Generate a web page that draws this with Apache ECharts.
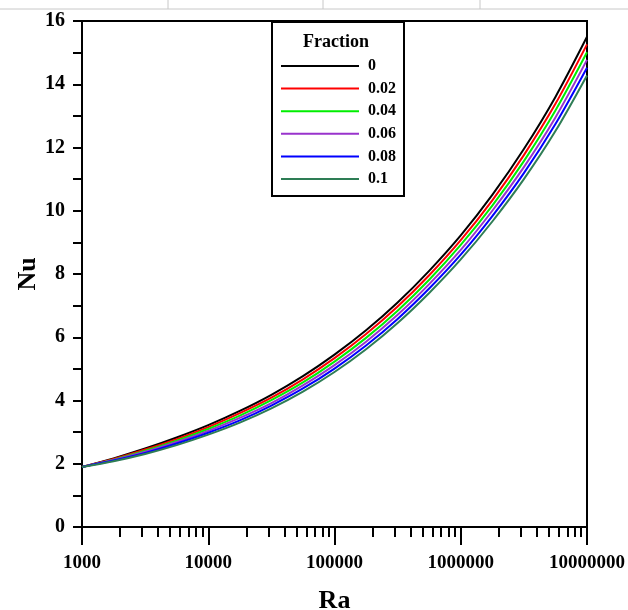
<!DOCTYPE html>
<html>
<head>
<meta charset="utf-8">
<script src="https://cdn.jsdelivr.net/npm/echarts@6/dist/echarts.min.js"></script>
<style>
html,body{margin:0;padding:0;background:#fff;}
#chart{width:628px;height:610px;}
</style>
</head>
<body>
<div id="chart"></div>
<script>
// Rayleigh numbers (x) read at quarter-decade steps
const raValues = [1000, 1778, 3162, 5623, 10000, 17783, 31623, 56234, 100000,
  177828, 316228, 562341, 1000000, 1778279, 3162278, 5623413, 10000000];
// Nusselt number for each nanoparticle fraction
const fractionNames = ['0', '0.02', '0.04', '0.06', '0.08', '0.1'];
const nu_000 = [1.90, 2.17, 2.48, 2.83, 3.22, 3.67, 4.18, 4.77, 5.45, 6.22, 7.10, 8.10, 9.22, 10.50, 11.95, 13.60, 15.50];
const nu_002 = [1.90, 2.15, 2.45, 2.78, 3.16, 3.60, 4.09, 4.67, 5.34, 6.10, 6.97, 7.96, 9.07, 10.33, 11.76, 13.38, 15.26];
const nu_004 = [1.90, 2.13, 2.41, 2.73, 3.10, 3.52, 4.01, 4.57, 5.23, 5.98, 6.84, 7.82, 8.92, 10.16, 11.57, 13.17, 15.01];
const nu_006 = [1.90, 2.12, 2.38, 2.69, 3.04, 3.45, 3.92, 4.48, 5.12, 5.86, 6.71, 7.68, 8.76, 10.00, 11.38, 12.95, 14.77];
const nu_008 = [1.90, 2.10, 2.34, 2.64, 2.98, 3.37, 3.84, 4.38, 5.01, 5.74, 6.58, 7.54, 8.61, 9.83, 11.19, 12.74, 14.52];
const nu_010 = [1.90, 2.08, 2.31, 2.59, 2.92, 3.30, 3.75, 4.28, 4.90, 5.62, 6.45, 7.40, 8.46, 9.66, 11.00, 12.52, 14.28];
const seriesValues = [nu_000, nu_002, nu_004, nu_006, nu_008, nu_010];
const seriesColors = ['#000000', '#ff0000', '#00ee00', '#9933cc', '#0000ff', '#2e7d55'];
// axis ticks
const xMajorTicks = [1000, 10000, 100000, 1000000, 10000000];
const xMinorTicks = [2000,3000,4000,5000,6000,7000,8000,9000,
  20000,30000,40000,50000,60000,70000,80000,90000,
  200000,300000,400000,500000,600000,700000,800000,900000,
  2000000,3000000,4000000,5000000,6000000,7000000,8000000,9000000];
const yTicks = [0, 2, 4, 6, 8, 10, 12, 14, 16];

const FONT = '"Liberation Serif", "Times New Roman", serif';
const chart = echarts.init(document.getElementById('chart'), null, {renderer: 'canvas'});

const series = fractionNames.map((name, i) => ({
  name: name,
  type: 'line',
  xAxisIndex: 0,
  yAxisIndex: 0,
  smooth: 0.3,
  symbol: 'none',
  lineStyle: {color: seriesColors[i], width: 2},
  itemStyle: {color: seriesColors[i]},
  data: raValues.map((r, k) => [r, seriesValues[i][k]])
}));

chart.setOption({
  animation: false,
  backgroundColor: '#ffffff',
  grid: {left: 82, right: 41, top: 21, bottom: 83, containLabel: false, outerBoundsMode: 'none',
    show: true, borderColor: '#000', borderWidth: 2, backgroundColor: 'transparent'},
  xAxis: [{
    type: 'log', logBase: 10, min: xMajorTicks[0], max: xMajorTicks[xMajorTicks.length - 1],
    position: 'bottom',
    name: 'Ra', nameLocation: 'middle', nameGap: 61, nameMoveOverlap: false,
    nameTextStyle: {fontFamily: FONT, fontWeight: 'bold', fontSize: 26, color: '#000'},
    axisLine: {show: true, lineStyle: {color: '#000', width: 2}},
    axisTick: {show: true, length: 18, lineStyle: {color: '#000', width: 2}},
    axisLabel: {show: true, margin: 27, fontFamily: FONT, fontWeight: 'bold', fontSize: 19, color: '#000',
      formatter: v => String(Math.round(v))},
    splitLine: {show: false}
  }, {
    type: 'log', logBase: 10, min: xMajorTicks[0], max: xMajorTicks[xMajorTicks.length - 1],
    position: 'bottom', offset: 0,
    axisLine: {show: false},
    axisTick: {show: true, length: 10, customValues: xMinorTicks, lineStyle: {color: '#000', width: 2}},
    axisLabel: {show: false},
    splitLine: {show: false}
  }],
  yAxis: {
    type: 'value', min: yTicks[0], max: yTicks[yTicks.length - 1], interval: 2,
    name: 'Nu', nameLocation: 'middle', nameGap: 41, nameRotate: 90, nameMoveOverlap: false,
    nameTextStyle: {fontFamily: FONT, fontWeight: 'bold', fontSize: 26, color: '#000'},
    axisLine: {show: true, lineStyle: {color: '#000', width: 2}},
    axisTick: {show: true, length: 9, lineStyle: {color: '#000', width: 2}},
    minorTick: {show: true, splitNumber: 2, length: 9, lineStyle: {color: '#000', width: 2}},
    axisLabel: {margin: 17, fontFamily: FONT, fontWeight: 'bold', fontSize: 20, color: '#000'},
    splitLine: {show: false}
  },
  legend: {
    orient: 'vertical',
    left: 272, top: 22,
    data: fractionNames,
    backgroundColor: '#fff',
    borderColor: '#000', borderWidth: 2,
    padding: [36, 8, 9, 9],
    itemWidth: 78, itemHeight: 14, itemGap: 6.6,
    icon: 'path://M0,6 L78,6 L78,8 L0,8 Z',
    textStyle: {fontFamily: FONT, fontWeight: 'bold', fontSize: 16, lineHeight: 14, color: '#000', padding: [0, 0, 0, 4]}
  },
  graphic: [
    {type: 'text', x: 336, y: 42, style: {text: 'Fraction', font: 'bold 18px ' + FONT, fill: '#000', align: 'center', verticalAlign: 'middle'}, z: 100},
    {type: 'line', shape: {x1: 0, y1: 9, x2: 628, y2: 9}, style: {stroke: '#c8c8c8', lineWidth: 1}},
    {type: 'line', shape: {x1: 168, y1: 0, x2: 168, y2: 9}, style: {stroke: '#c8c8c8', lineWidth: 1}},
    {type: 'line', shape: {x1: 323, y1: 0, x2: 323, y2: 9}, style: {stroke: '#c8c8c8', lineWidth: 1}},
    {type: 'line', shape: {x1: 480, y1: 0, x2: 480, y2: 9}, style: {stroke: '#c8c8c8', lineWidth: 1}}
  ],
  series: series
});
</script>
</body>
</html>
